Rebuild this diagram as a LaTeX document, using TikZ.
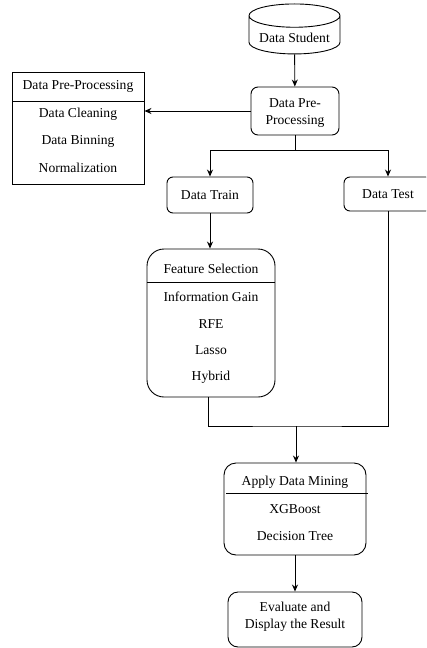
\documentclass[tikz,border=0pt]{standalone}
\usepackage{fontspec}
\setmainfont{Liberation Serif}
\usetikzlibrary{shapes.geometric,arrows.meta}

\tikzset{
    every node/.style={font=\fontsize{13.6}{17.5}\selectfont},
    box/.style={draw, align=center, inner sep=0pt},
    rbox/.style={box, rounded corners=#1},
    db/.style={draw, cylinder, shape border rotate=90, aspect=0.33,
        minimum width=91pt, minimum height=50pt, inner sep=0pt}
}

\begin{document}
\begin{tikzpicture}[x=1pt, y=-1pt, line width=0.9pt, >={Stealth[length=7pt,width=6pt]}]

            \clip (0,0) rectangle (426,648);

            % draw nodes
                % data source
                \node [db, text height=14pt, text depth=-2pt] (student) at (294.5,35) {Data Student};

                % pre-processing
                \node [rbox=7pt, minimum width=88pt, minimum height=48pt] (prep) at (295,111) {};
                \node [align=center] (prep-text) at (295,113) {Data Pre-\\Processing};

                % pre-processing list
                \node [box, minimum width=132pt, minimum height=112pt] (prepbox) at (78,128) {};
                \node (prepbox-title) at (78,86) {Data Pre-Processing};
                \draw (12,101) -- (144,101);
                \foreach \l [count=\i] in {Data Cleaning, Data Binning, Normalization}
                \node (prepbox-\i) at (78,87+27*\i) {\l};

                % split
                \node [rbox=6pt, minimum width=86pt, minimum height=36pt] (train) at (210,195) {Data Train};
                \node [rbox=6pt, minimum width=88pt, minimum height=34pt] (test) at (388,194) {Data Test};

                % feature selection
                \node [rbox=17pt, minimum width=128pt, minimum height=148pt] (fs) at (211,323) {};
                \node (fs-title) at (211,269) {Feature Selection};
                \draw (147,282) -- (275,282);
                \foreach \l [count=\i] in {Information Gain, RFE, Lasso, Hybrid}
                \node (fs-\i) at (211,270.3+26.7*\i) {\l};

                % data mining
                \node [rbox=12pt, minimum width=142pt, minimum height=92pt] (adm) at (295,509) {};
                \node (adm-title) at (295,482) {Apply Data Mining};
                \draw (226,493) -- (368,493);
                \foreach \l [count=\i] in {XGBoost, Decision Tree}
                \node (adm-\i) at (295,482+27*\i) {\l};

                % result
                \node [rbox=10pt, minimum width=134pt, minimum height=55pt] (eval) at (295,619.5) {};
                \node [align=center] (eval-text) at (295,616.5) {Evaluate and\\Display the Result};

            % lines
            \coordinate (split) at (295,150);
            \coordinate (join) at (296,426);

            \draw [->] (student) -- (prep);
            \draw [->] (prep.west) -- (prep.west -| prepbox.east);
            \draw (prep.south) -- (split);
            \draw [->] (split) -| (train.north);
            \draw [->] (split) -| (test.north);
            \draw [->] (train) -- (train |- fs.north);
            \draw ([xshift=-3pt]fs.south) |- (join) -| (test.south);
            \draw [->] (join) -- (join |- adm.north);
            \draw [->] (adm) -- (eval);

\end{tikzpicture}
\end{document}
